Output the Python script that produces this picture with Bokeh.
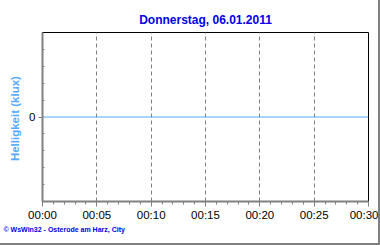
from bokeh.plotting import figure
from bokeh.models import FixedTicker, Range1d, Title
from bokeh.embed import file_html
from bokeh.resources import INLINE

minutes = [0, 5, 10, 15, 20, 25, 30]
tick_labels = ["00:00", "00:05", "00:10", "00:15", "00:20", "00:25", "00:30"]
helligkeit = [0, 0, 0, 0, 0, 0, 0]

p = figure(frame_width=326, frame_height=169, output_backend="svg", toolbar_location=None,
           x_range=Range1d(0, 30), y_range=Range1d(-1, 1),
           min_border_left=42, min_border_right=10, min_border_top=32, min_border_bottom=42)
p.styles = {"border-right": "2px solid #808080", "border-bottom": "2px solid #808080"}
p.background_fill_color = "white"
p.border_fill_color = "white"
p.outline_line_color = "black"
p.outline_line_width = 1

p.title = Title(text="Donnerstag, 06.01.2011", align="center", text_color="#0000ee",
                text_font="Liberation Sans", text_font_size="12px", text_font_style="bold",
                offset=0, standoff=12)

p.line(minutes, helligkeit, line_color="#55aaff", line_width=1.2)

xa = p.xaxis[0]
xa.ticker = FixedTicker(ticks=minutes, minor_ticks=list(range(0, 31)))
xa.major_label_overrides = {m: l for m, l in zip(minutes, tick_labels)}
xa.axis_line_color = "#808080"
xa.axis_line_width = 2
xa.major_tick_line_color = "#808080"
xa.minor_tick_line_color = "#808080"
xa.major_tick_in = 0
xa.major_tick_out = 5
xa.minor_tick_in = 0
xa.minor_tick_out = 3
xa.major_label_text_font = "Liberation Sans"
xa.major_label_text_font_size = "11.5px"
xa.major_label_text_color = "black"
xa.major_label_standoff = 2

ya = p.yaxis[0]
ya.ticker = FixedTicker(ticks=[0], minor_ticks=[-0.8, -0.6, -0.4, -0.2, 0.2, 0.4, 0.6, 0.8])
ya.axis_line_color = "#808080"
ya.axis_line_width = 2
ya.major_tick_line_color = "#808080"
ya.minor_tick_line_color = "#808080"
ya.major_tick_in = 0
ya.major_tick_out = 4
ya.minor_tick_in = 2
ya.minor_tick_out = 0
ya.major_label_text_font = "Liberation Sans"
ya.major_label_text_font_size = "11.5px"
ya.major_label_text_color = "black"
ya.major_label_standoff = 3
ya.axis_label = "Helligkeit  (klux)"
ya.axis_label_text_color = "#55aaff"
ya.axis_label_text_font = "Liberation Sans"
ya.axis_label_text_font_size = "11.5px"
ya.axis_label_text_font_style = "bold"
ya.axis_label_standoff = 5

p.xgrid.grid_line_color = "#808080"
p.xgrid.grid_line_dash = "4 3"
p.xgrid.grid_line_width = 1
p.ygrid.grid_line_color = None

footer = Title(text="© WsWin32  -  Osterode am Harz, City", align="left", text_color="#0000ee",
               text_font="Liberation Sans", text_font_size="7px", text_font_style="bold",
               offset=-39, standoff=0)
p.add_layout(footer, "below")

open("out.html", "w").write(file_html(p, INLINE))
